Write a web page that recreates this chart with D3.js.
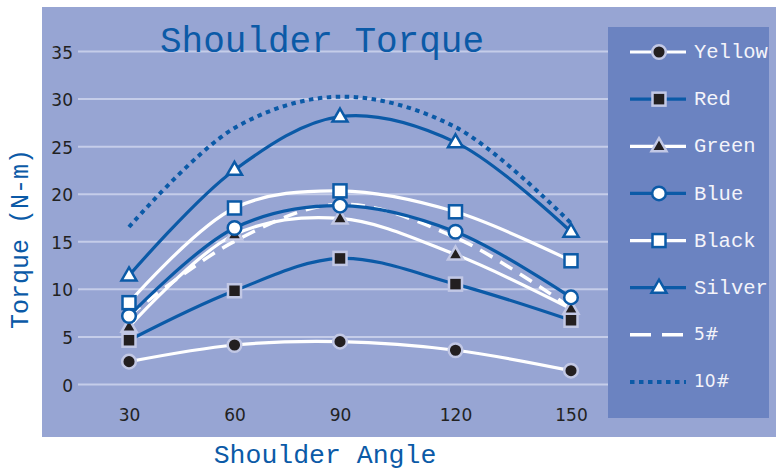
<!DOCTYPE html>
<html><head><meta charset="utf-8">
<script src="https://cdn.jsdelivr.net/npm/d3@7"></script>
<style>body{margin:0;background:#fff}svg{display:block}</style>
</head><body><svg id="c" width="776" height="470"></svg>
<script>
const angles = [30, 60, 90, 120, 150];
const yTicks = [0, 5, 10, 15, 20, 25, 30, 35];
const seriesNames = ["Yellow", "Red", "Green", "Blue", "Black", "Silver", "5#", "10#"];
const yellow = [2.35, 4.1, 4.45, 3.55, 1.4];
const red    = [4.6, 9.8, 13.2, 10.5, 6.7];
const green  = [6.0, 15.7, 17.4, 13.6, 7.9];
const blue   = [7.15, 16.4, 18.75, 16.0, 9.1];
const black  = [8.55, 18.5, 20.3, 18.1, 12.95];
const silver = [11.4, 22.5, 28.1, 25.4, 16.0];
const five   = [7.2, 15.0, 18.9, 15.4, 8.0];
const ten    = [16.5, 26.9, 30.2, 27.0, 16.9];

const BLUE = "#0b5aa7", WHITE = "#ffffff", LAV = "#c2c8e5", BLK = "#231f20";
const styles = [
  {vals: yellow, line: WHITE, marker: "circle",   fill: BLK,   stroke: LAV},
  {vals: red,    line: BLUE,  marker: "square",   fill: BLK,   stroke: LAV},
  {vals: green,  line: WHITE, marker: "triangle", fill: BLK,   stroke: LAV},
  {vals: blue,   line: BLUE,  marker: "circle",   fill: WHITE, stroke: BLUE},
  {vals: black,  line: WHITE, marker: "square",   fill: WHITE, stroke: BLUE},
  {vals: silver, line: BLUE,  marker: "triangle", fill: WHITE, stroke: BLUE},
  {vals: five,   line: WHITE, marker: null, dash: "14,9", width: 3.5},
  {vals: ten,    line: BLUE,  marker: null, dash: "4.5,4.5", width: 4}
];

const svg = d3.select("#c");
svg.append("rect").attr("x", 42).attr("y", 7).attr("width", 734).attr("height", 430).attr("fill", "#97a5d3");

const x = d3.scaleLinear().domain([30, 90, 150]).range([129, 340, 571]);
const y = d3.scaleLinear().domain([0, 35]).range([384, 51]);

const yAxis = svg.append("g").attr("transform", "translate(78,0)")
  .call(d3.axisLeft(y).tickValues(yTicks).tickSize(-530).tickPadding(5));
yAxis.select(".domain").remove();
yAxis.selectAll(".tick line").attr("stroke", "#c5cde9").attr("stroke-width", 2);
yAxis.selectAll(".tick line").attr("x1", 0).attr("x2", 530);
yAxis.selectAll(".tick text").attr("font-family", "DejaVu Sans").attr("font-size", 17).attr("fill", "#222").attr("dy", "0.42em");

const xAxis = svg.append("g").attr("transform", "translate(0,384)")
  .call(d3.axisBottom(x).tickValues(angles).tickSize(0).tickPadding(25));
xAxis.select(".domain").remove();
xAxis.selectAll(".tick text").attr("font-family", "DejaVu Sans").attr("font-size", 17).attr("fill", "#222");

// legend box
svg.append("rect").attr("x", 608).attr("y", 27).attr("width", 161).attr("height", 391).attr("fill", "#6b83c1");

function drawMarker(g, type, cx, cy, fill, stroke) {
  if (type === "circle") {
    g.append("circle").attr("cx", cx).attr("cy", cy).attr("r", 6.8)
      .attr("fill", fill).attr("stroke", stroke).attr("stroke-width", 2.5);
  } else if (type === "square") {
    g.append("rect").attr("x", cx - 6.5).attr("y", cy - 6.5).attr("width", 13).attr("height", 13)
      .attr("fill", fill).attr("stroke", stroke).attr("stroke-width", 2.5);
  } else if (type === "triangle") {
    const s = 15, h = s * Math.sqrt(3) / 2;
    g.append("path").attr("d", `M${cx},${cy - h * 0.62}L${cx + s / 2},${cy + h * 0.38}L${cx - s / 2},${cy + h * 0.38}Z`)
      .attr("fill", fill).attr("stroke", stroke).attr("stroke-width", 2.5).attr("stroke-linejoin", "miter");
  }
}

const line = d3.line().x((d, i) => x(angles[i])).y(d => y(d)).curve(d3.curveCatmullRom.alpha(0.5));
const linesG = svg.append("g");
const order = [7, 6, 0, 1, 2, 3, 4, 5];
order.forEach(k => {
  const s = styles[k];
  linesG.append("path").attr("d", line(s.vals)).attr("fill", "none")
    .attr("stroke", s.line).attr("stroke-width", s.width || 3.2)
    .attr("stroke-dasharray", s.dash || null);
});
const markG = svg.append("g");
styles.forEach(s => {
  if (!s.marker) return;
  s.vals.forEach((v, i) => drawMarker(markG, s.marker, x(angles[i]), y(v), s.fill, s.stroke));
});

// legend entries
const lg = svg.append("g");
const legY = d3.scaleLinear().domain([0, 7]).range([52, 382]);
styles.forEach((s, i) => {
  const yy = legY(i);
  lg.append("line").attr("x1", 630).attr("x2", 686).attr("y1", yy).attr("y2", yy)
    .attr("stroke", s.line).attr("stroke-width", s.width || 3.2).attr("stroke-dasharray", s.dash ? (i === 6 ? "21,11" : "4.5,4.5") : null);
  if (s.marker) drawMarker(lg, s.marker, 659, yy, s.fill, s.stroke);
  const mono = i < 6;
  lg.append("text").attr("x", 694).attr("y", yy).attr("dy", "0.3em")
    .attr("font-family", mono ? "Liberation Mono" : "DejaVu Sans")
    .attr("font-size", mono ? 20.5 : 17).attr("fill", "#f4f4fa").text(seriesNames[i]);
});

svg.append("text").attr("x", 322).attr("y", 52).attr("text-anchor", "middle")
  .attr("font-family", "Liberation Mono").attr("font-size", 36).attr("fill", BLUE).text("Shoulder Torque");
svg.append("text").attr("transform", "translate(28,239) rotate(-90)").attr("text-anchor", "middle")
  .attr("font-family", "Liberation Mono").attr("font-size", 25).attr("fill", BLUE).text("Torque (N-m)");
svg.append("text").attr("x", 325).attr("y", 463).attr("text-anchor", "middle")
  .attr("font-family", "Liberation Mono").attr("font-size", 26.5).attr("fill", BLUE).text("Shoulder Angle");
</script></body></html>
